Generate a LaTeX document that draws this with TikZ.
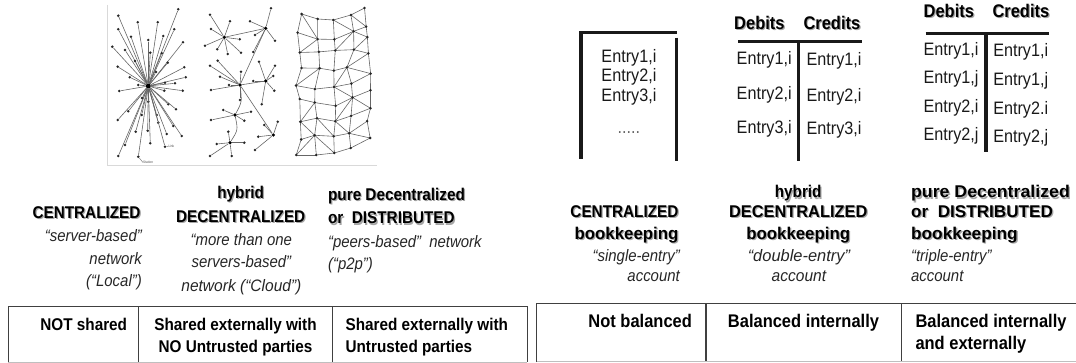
\documentclass[tikz,border=0pt]{standalone}
\usepackage{graphicx}
\usepackage{fontspec}
\setmainfont{Liberation Sans}[FakeStretch=0.9]
% text with a soft grey drop shadow
\newcommand\shtext[1]{\makebox[0pt][l]{\hspace{1.2pt}\raisebox{-1.2pt}{\textcolor{black!35}{#1}}}#1}
% horizontal stretch of a single line
\newcommand\hs[2]{\scalebox{#1}[1]{#2}}
\begin{document}
\begin{tikzpicture}[x=1pt,y=-1pt,
  dot/.style={circle,fill=black!85,inner sep=0pt,minimum size=2.8pt},
  hubdot/.style={circle,fill=black,inner sep=0pt,minimum size=3.6pt},
  link/.style={draw=black!60,line width=0.6pt},
  tiny/.style={font=\fontsize{3.5}{4}\selectfont,inner sep=0pt,text=black!70},
  capb/.style={font=\fontsize{17}{20}\selectfont\bfseries,inner sep=0pt},
  capi/.style={font=\fontsize{16.6}{20}\selectfont\itshape,inner sep=0pt,text=black!85},
  ent/.style={font=\fontsize{18}{20}\selectfont,inner sep=0pt,text=black!90},
  enth/.style={font=\fontsize{18.3}{20}\selectfont\bfseries,inner sep=0pt},
  cell/.style={font=\fontsize{17}{20}\selectfont\bfseries,inner sep=0pt},
  cellr/.style={font=\fontsize{18.3}{20}\selectfont\bfseries,inner sep=0pt},
  rulev/.style={line width=3.5pt,black!90},
  ruleh/.style={line width=3.2pt,black!90},
  grid/.style={draw=black!75,line width=1.4pt},
  frame/.style={draw=black!15,line width=0.8pt}
]
\useasboundingbox (0,0) rectangle (1076,363);

% ---------- network pictures ----------
\draw[frame] (107,5) -- (107,165) -- (377,165);

% centralized: one hub, many spokes
\node[hubdot,minimum size=5pt] (hub) at (148.3,86) {};
\foreach [count=\i] \x/\y in {118.3/15.7,178.3/9.3,137.7/22.3,157.7/22.3,118.3/29.3,174.3/29.3,
  131/36.7,163.3/36,112.3/46.7,183/42.3,125/50,148.3/40,150.3/52.7,161.7/53.3,167.7/62.7,
  117.7/66.7,129.7/77.3,184.3/67.3,185.7/77.3,138.3/85,165/82.7,119.3/91,175/83.3,182.7/90.7,
  164.3/90.7,128.3/111.3,148.3/101.7,168.3/104.3,176/109.3,117.7/120,141.7/115,156.7/115,
  158.3/122.7,173.3/126,135.7/131.7,147.7/130.7,181.7/136,125/145,166.7/134,150.3/143.3,
  118.3/156,138.3/156.7,165/146.7,135/61,156/72,142/98}
  {\node[dot] (c\i) at (\x,\y) {};
   \draw[link] (hub) -- (c\i);}
\coordinate (lk) at (168.3,146.2);
\draw[black!60,line width=0.4pt] (c43) -- (lk);
\node[tiny,anchor=west] (lklab) at (lk) {Link};
\coordinate (st) at (143,162.5);
\draw[black!60,line width=0.4pt] (c42) -- (st);
\node[tiny,anchor=west] (stlab) at (st) {Station};

% hybrid decentralized: several hubs
\node[hubdot] (hA) at (224.3,37.3) {};
\node[hubdot] (hB) at (265.7,28.3) {};
\node[hubdot] (hC) at (240,85) {};
\node[hubdot] (hD) at (265.7,81) {};
\node[hubdot] (hE) at (235,115) {};
\node[hubdot] (hF) at (273.3,135) {};
\node[hubdot] (hG) at (230,142.7) {};
\draw[link] (hA) -- (hB);
\draw[link] (hB) -- (hC);
\draw[link] (hC) -- (hD);
\draw[link] (hC) -- (hF);
\draw[link] (hC) .. controls (242,102) .. (hE);
\draw[link] (hE) .. controls (238,130) .. (hG);
\foreach [count=\i] \h/\x/\y in {hA/210/14.7,hA/230/21.3,hA/211/29,hA/205/45.7,hA/217.3/49.3,
  hA/227.7/54,hA/241/52.7,hA/239.7/39.3,
  hB/271/8.3,hB/250/21.3,hB/255/35,hB/275/40.7,hB/253.3/52,
  hC/210/65.7,hC/217.7/60.7,hC/220/76.7,hC/211/90,hC/229/85,hC/241/71.7,hC/240/100,
  hD/259/61.7,hD/275/65.7,hD/273.3/76,hD/274.3/90.7,hD/261.7/104.3,hD/253.3/81,
  hE/223.3/110,hE/211/120,hE/244.3/120.7,hE/251/111.7,
  hF/264.3/125,hF/277.7/121.7,hF/258.3/136.7,hF/255/150,
  hG/216.7/144,hG/210/156,hG/231.7/156,hG/244.3/142.7,hG/228.3/131.7}
  {\node[dot] (l\i) at (\x,\y) {};
   \draw[link] (\h) -- (l\i);}

% distributed: a jittered, partly triangulated mesh
\pgfmathsetseed{11}
\foreach \r in {0,...,8}{
  \foreach \c in {0,...,4}{
    \pgfmathsetmacro\tp{{14,19,20,15,8}[\c]}
    \pgfmathsetmacro\bt{{155,155,153,148,138}[\c]}
    \pgfmathsetmacro\bx{{299,316,333,350,367}[\c]}
    \pgfmathsetmacro\mx{\bx+4*rand}
    \pgfmathsetmacro\my{\tp+\r*(\bt-\tp)/8+(\r>0)*(\r<8)*4*rand}
    \coordinate (m-\r-\c) at (\mx,\my);
  }
}
\foreach \r in {0,...,8}{
  \foreach \c in {0,...,3}{
    \pgfmathtruncatemacro\cn{\c+1}
    \draw[link] (m-\r-\c) -- (m-\r-\cn);
  }
}
\foreach \r in {0,...,7}{
  \foreach \c in {0,...,4}{
    \pgfmathtruncatemacro\rn{\r+1}
    \draw[link] (m-\r-\c) -- (m-\rn-\c);
  }
}
\foreach \r in {0,...,7}{
  \foreach \c in {0,...,3}{
    \pgfmathtruncatemacro\rn{\r+1}
    \pgfmathtruncatemacro\cn{\c+1}
    \pgfmathtruncatemacro\pp{mod(\r*3+\c*2+\r*\c,2)}
    \pgfmathsetmacro\sk{rand}
    \ifdim\sk pt>-0.4pt
      \ifnum\pp=0
        \draw[link] (m-\r-\c) -- (m-\rn-\cn);
      \else
        \draw[link] (m-\r-\cn) -- (m-\rn-\c);
      \fi
    \fi
  }
}
\foreach \r in {0,...,8}{
  \foreach \c in {0,...,4}{
    \node[dot] (md-\r-\c) at (m-\r-\c) {};
  }
}

% ---------- network captions ----------
\node[capb,anchor=base east] (n1a) at (140.7,218.2) {\shtext{CENTRALIZED}};
\node[capi,anchor=base east] (n1b) at (142,241.3) {“server-based”};
\node[capi,anchor=base east] (n1c) at (142,264.7) {network};
\node[capi,anchor=base east] (n1d) at (142,287) {(“Local”)};

\node[capb,anchor=base] (n2a) at (240.7,198.2) {\shtext{hybrid}};
\node[capb,anchor=base] (n2b) at (240.7,222.3) {\shtext{DECENTRALIZED}};
\node[capi,anchor=base] (n2c) at (241.4,245.4) {“more than one};
\node[capi,anchor=base] (n2d) at (241.4,267.8) {servers-based”};
\node[capi,anchor=base] (n2e) at (241.4,292) {\hs{1.04}{network (“Cloud”)}};

\node[capb,anchor=base west] (n3a) at (327.9,200.6) {\shtext{pure Decentralized}};
\node[capb,anchor=base west] (n3b) at (327.9,224) {\shtext{or\ \ DISTRIBUTED}};
\node[capi,anchor=base west] (n3c) at (327.9,247.1) {“peers-based”\ \ network};
\node[capi,anchor=base west] (n3d) at (327.9,269.5) {(“p2p”)};

% ---------- sharing table ----------
\draw[grid] (8.3,362) -- (8.3,306.7) -- (527.3,306.7) -- (527.3,362);
\draw[grid] (138.3,306.7) -- (138.3,362);
\draw[grid] (332.7,306.7) -- (332.7,362);
\draw[black!25,line width=1pt] (8.3,362) -- (527.3,362);
\node[cell,anchor=base east] (t1a) at (127.3,330.5) {NOT shared};
\node[cell,anchor=base] (t2a) at (235.5,330.5) {Shared externally with};
\node[cell,anchor=base] (t2b) at (235.5,352.5) {NO Untrusted parties};
\node[cell,anchor=base west] (t3a) at (345.4,330.5) {Shared externally with};
\node[cell,anchor=base west] (t3b) at (345.4,352.5) {Untrusted parties};

% ---------- ledgers ----------
% single-entry
\draw[rulev] (581,159) -- (581,32.5) -- (676.7,32.5);
\draw[rulev] (676.7,37.6) -- (676.7,160.6);
\node[ent,anchor=base] (s1) at (628.9,62.2) {Entry1,i};
\node[ent,anchor=base] (s2) at (628.9,82) {Entry2,i};
\node[ent,anchor=base] (s3) at (628.9,101.9) {Entry3,i};
\node[ent,anchor=base,text=black!60] (s4) at (628.9,133.3) {.....};

% double-entry
\node[enth,anchor=base] (dh1) at (759.4,29.7) {\shtext{Debits}};
\node[enth,anchor=base] (dh2) at (831.9,29.7) {\shtext{Credits}};
\draw[ruleh] (738.2,41.7) -- (862,41.7);
\draw[rulev] (798.7,41.7) -- (798.7,160.6);
\node[ent,anchor=base] (d1) at (764.2,64.9) {Entry1,i};
\node[ent,anchor=base] (d2) at (764.2,99.8) {Entry2,i};
\node[ent,anchor=base] (d3) at (764.2,134) {Entry3,i};
\node[ent,anchor=base] (d4) at (834,65.6) {Entry1,i};
\node[ent,anchor=base] (d5) at (834,101.9) {Entry2,i};
\node[ent,anchor=base] (d6) at (834,135) {Entry3,i};

% triple-entry
\node[enth,anchor=base] (th1) at (948.8,17.8) {\shtext{Debits}};
\node[enth,anchor=base] (th2) at (1020.9,17.8) {\shtext{Credits}};
\draw[ruleh] (925.6,33.2) -- (1049.3,33.2);
\draw[rulev] (986,33.2) -- (986,152.1);
\node[ent,anchor=base] (r1) at (951,55.4) {Entry1,i};
\node[ent,anchor=base] (r2) at (951,83.7) {Entry1,j};
\node[ent,anchor=base] (r3) at (951,112.8) {Entry2,i};
\node[ent,anchor=base] (r4) at (951,140.8) {Entry2,j};
\node[ent,anchor=base] (r5) at (1020.7,56.4) {Entry1,i};
\node[ent,anchor=base] (r6) at (1020.7,85.5) {Entry1,j};
\node[ent,anchor=base] (r7) at (1020.7,114.5) {Entry2.i};
\node[ent,anchor=base] (r8) at (1020.7,142.9) {Entry2,j};

% ---------- bookkeeping captions ----------
\node[capb,anchor=base east] (b1a) at (678.6,217.7) {\shtext{CENTRALIZED}};
\node[capb,anchor=base east] (b1b) at (678.6,239.6) {\hs{1.1}{\shtext{bookkeeping}}};
\node[capi,anchor=base east] (b1c) at (680,261.8) {“single-entry”};
\node[capi,anchor=base east] (b1d) at (680,281.6) {account};

\node[capb,anchor=base] (b2a) at (798.2,197.9) {\shtext{hybrid}};
\node[capb,anchor=base] (b2b) at (798.2,217.7) {\hs{1.07}{\shtext{DECENTRALIZED}}};
\node[capb,anchor=base] (b2c) at (798.2,239.6) {\hs{1.1}{\shtext{bookkeeping}}};
\node[capi,anchor=base] (b2d) at (798.9,261.8) {\hs{1.1}{“double-entry”}};
\node[capi,anchor=base] (b2e) at (798.9,281.6) {\hs{1.04}{account}};

\node[capb,anchor=base west] (b3a) at (910.9,197.9) {\hs{1.16}{\shtext{pure Decentralized}}};
\node[capb,anchor=base west] (b3b) at (910.9,217.7) {\hs{1.12}{\shtext{or\ \ DISTRIBUTED}}};
\node[capb,anchor=base west] (b3c) at (910.9,239.6) {\hs{1.13}{\shtext{bookkeeping}}};
\node[capi,anchor=base west] (b3d) at (910.9,261.8) {“triple-entry”};
\node[capi,anchor=base west] (b3e) at (910.9,281.6) {account};

% ---------- balance table ----------
\draw[grid] (536.7,362) -- (536.7,303.3) -- (1077,303.3);
\draw[grid] (705.8,303.3) -- (705.8,362);
\draw[grid] (901.6,303.3) -- (901.6,362);
\draw[black!25,line width=1pt] (536.7,361.5) -- (1076,361.5);
\node[cellr,anchor=base east] (u1a) at (692.1,327) {Not balanced};
\node[cellr,anchor=base] (u2a) at (803.5,327) {Balanced internally};
\node[cellr,anchor=base west] (u3a) at (915.3,327) {Balanced internally};
\node[cellr,anchor=base west] (u3b) at (915.3,349) {and externally};
\end{tikzpicture}
\end{document}
